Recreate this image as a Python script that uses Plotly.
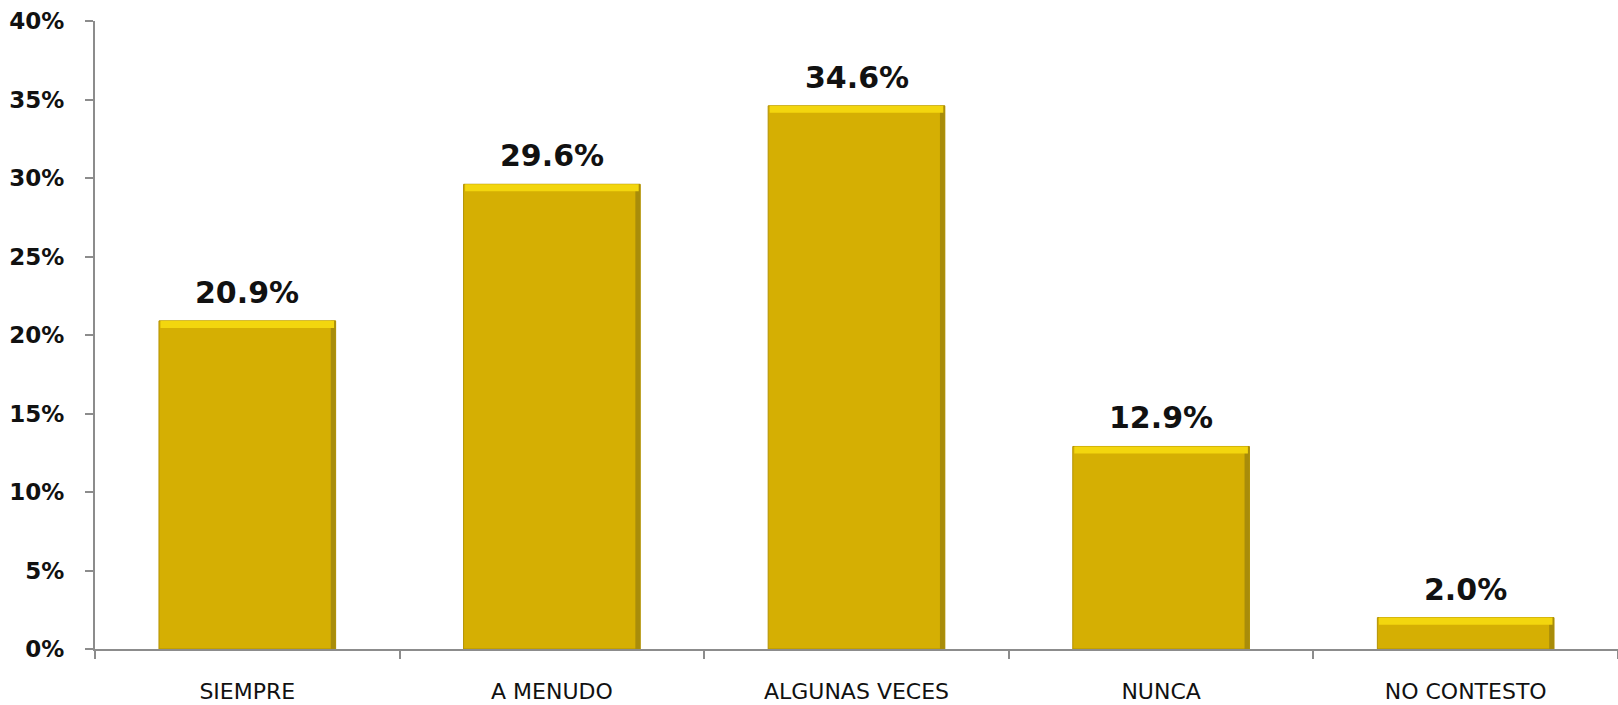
import plotly.graph_objects as go

categories = ["SIEMPRE", "A MENUDO", "ALGUNAS VECES", "NUNCA", "NO CONTESTO"]
values = [20.9, 29.6, 34.6, 12.9, 2.0]
y_ticks = [0, 5, 10, 15, 20, 25, 30, 35, 40]
y_tick_labels = [f"{t}%" for t in y_ticks]

BAR_W = 0.58
BEVEL = 0.45       # height of the light top bevel, in percentage points
EDGE_W = 0.016     # width of the darker right-hand edge, in category units

fig = go.Figure()

# main gold bars
fig.add_trace(go.Bar(
    x=categories, y=values, width=BAR_W,
    marker=dict(color="#D5AF03", line=dict(color="#B39200", width=1)),
    hoverinfo="skip",
))

# darker right edge of each bar
fig.add_trace(go.Bar(
    x=categories, y=values, width=EDGE_W, offset=BAR_W / 2 - EDGE_W,
    marker=dict(color="#A88C0A", line=dict(width=0)),
    hoverinfo="skip",
))

# light bevel along the top of each bar
fig.add_trace(go.Bar(
    x=categories, y=[BEVEL] * len(values), base=[v - BEVEL for v in values],
    width=BAR_W - 0.01,
    marker=dict(color="#F3D60E", line=dict(width=0)),
    hoverinfo="skip",
))

# value labels above the bars
for c, v in zip(categories, values):
    fig.add_annotation(
        x=c, y=v, text=f"{v:.1f}%", showarrow=False,
        yanchor="bottom", yshift=9,
        font=dict(family="DejaVu Sans", size=30, color="#111111", weight="bold"),
    )

fig.update_layout(
    width=1618, height=705,
    margin=dict(l=95, r=0, t=21, b=56),
    paper_bgcolor="white", plot_bgcolor="white",
    barmode="overlay", bargap=0.42,
    showlegend=False,
    xaxis=dict(
        range=[-0.5, 4.5],
        showline=True, linecolor="#8C8C8C", linewidth=2,
        ticks="outside", tickson="boundaries", ticklen=8, tickcolor="#8C8C8C", tickwidth=2,
        showgrid=False, zeroline=False,
        tickfont=dict(family="DejaVu Sans", size=22, color="#111111"),
        ticklabelstandoff=22,
    ),
    yaxis=dict(
        range=[0, 40], tickmode="array", tickvals=y_ticks, ticktext=y_tick_labels,
        showline=True, linecolor="#8C8C8C", linewidth=2,
        ticks="outside", ticklen=8, tickcolor="#8C8C8C", tickwidth=2,
        showgrid=False, zeroline=False,
        tickfont=dict(family="DejaVu Sans", size=23, color="#111111", weight="bold"),
        ticklabelstandoff=16,
    ),
)

fig.write_html("out.html")
